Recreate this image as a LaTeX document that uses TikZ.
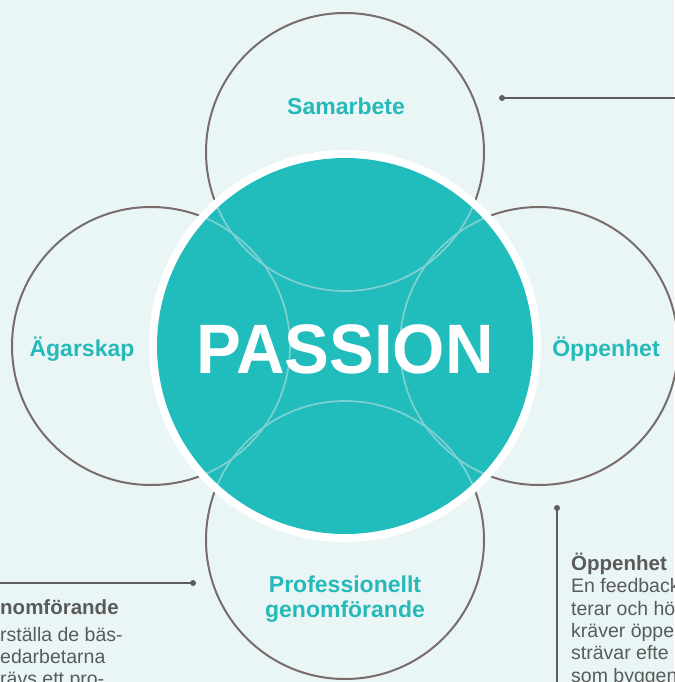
\documentclass[tikz,border=0pt]{standalone}
\usepackage{fontspec}
\setmainfont{Liberation Sans}
\definecolor{bg}{HTML}{EAF6F6}
\definecolor{tealfill}{HTML}{21BCBC}
\definecolor{tealtxt}{HTML}{25B9B9}
\definecolor{ringgrey}{HTML}{786C6D}
\definecolor{lightarc}{HTML}{7FD1D1}
\definecolor{txtgrey}{HTML}{5A5A5A}
\definecolor{linegrey}{HTML}{5E5E5E}
\begin{document}
\begin{tikzpicture}[x=1pt,y=-1pt,
  ring/.style={draw=ringgrey,line width=2pt},
  innerarc/.style={draw=lightarc,line width=1.7pt},
  lbl/.style={text=tealtxt,font=\bfseries\fontsize{23}{24.5}\selectfont,inner sep=0pt},
  head/.style={text=txtgrey,font=\bfseries\fontsize{20.5}{22}\selectfont,inner sep=0pt,anchor=base west},
  body/.style={text=txtgrey,font=\fontsize{19.5}{22}\selectfont,inner sep=0pt,anchor=base west},
  conn/.style={draw=linegrey,line width=1.6pt},
  dotmark/.style={fill=linegrey}]
\useasboundingbox (0,0) rectangle (674,682);
\fill[bg] (0,0) rectangle (674,682);
\coordinate (C) at (345,346);
\coordinate (T) at (345,152);
\coordinate (L) at (151,346);
\coordinate (R) at (539,346);
\coordinate (B) at (345,540);
\foreach \p in {T,L,R,B} \draw[ring] (\p) circle[radius=139pt];
\fill[white] (C) circle[radius=196pt];
\fill[tealfill] (C) circle[radius=188pt];
\begin{scope}
  \clip (C) circle[radius=188pt];
  \foreach \p in {T,L,R,B} \draw[innerarc] (\p) circle[radius=139pt];
\end{scope}
% labels
\node[white,font=\bfseries\fontsize{70}{70}\selectfont,xscale=0.96,anchor=base,inner sep=0pt] (passion) at (345,373) {PASSION};
\node[lbl,anchor=base] (samarbete) at (346,114) {Samarbete};
\node[lbl,anchor=base] (agarskap) at (82,356) {Ägarskap};
\node[lbl,anchor=base] (oppenhet) at (606,356) {Öppenhet};
\node[lbl,anchor=north,align=center] (prof) at (345,576) {Professionellt\\genomförande};
% bottom-left text
\node[head] (bl1) at (0,614) {nomförande};
\node[body] (bl2) at (0,641) {rställa de bäs-};
\node[body] (bl3) at (0,663) {edarbetarna};
\node[body] (bl4) at (0,685) {rävs ett pro-};
% bottom-right text
\node[head] (br1) at (571,570) {Öppenhet};
\node[body] (br2) at (571,592.5) {En feedback};
\node[body] (br3) at (571,615) {terar och hö};
\node[body] (br4) at (571,637) {kräver öppe};
\node[body] (br5) at (571,659.5) {strävar efte};
\node[body] (br6) at (571,682) {som byggen};
% connectors
\coordinate (d1) at (502,98); \coordinate (e1) at (676,98);
\coordinate (d2) at (193,583); \coordinate (e2) at (-2,583);
\coordinate (d3) at (557,508); \coordinate (e3) at (557,684);
\draw[conn] (d1) -- (e1);
\draw[conn] (d2) -- (e2);
\draw[conn] (d3) -- (e3);
\foreach \d in {d1,d2,d3} \fill[dotmark] (\d) circle[radius=3pt];
\end{tikzpicture}
\end{document}
